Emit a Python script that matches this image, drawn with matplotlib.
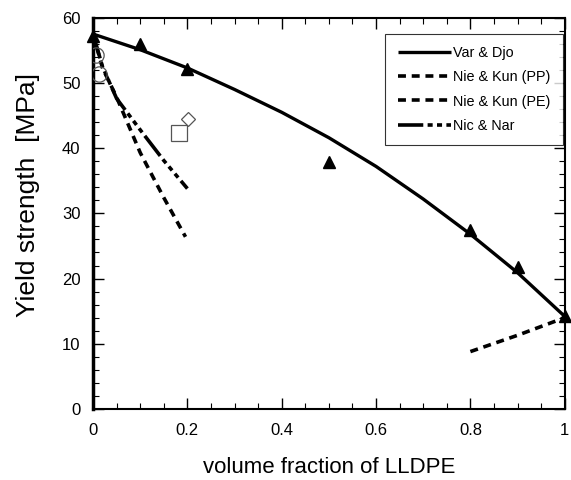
import matplotlib
matplotlib.use('Agg')
import matplotlib.pyplot as plt
from matplotlib.ticker import MultipleLocator

plt.rcParams['font.family'] = ['Liberation Sans', 'DejaVu Sans']

# measured points (filled triangles)
tri_x = [0.0, 0.1, 0.2, 0.5, 0.8, 0.9, 1.0]
tri_y = [57.2, 55.9, 52.1, 37.9, 27.5, 21.8, 14.2]

# other measured points
circ_x = [0.007, 0.012]
circ_y = [54.3, 51.3]
sq_x = [0.183]
sq_y = [42.3]
dia_x = [0.202]
dia_y = [44.5]

# model curves
vd_x = [0.0, 0.1, 0.2, 0.3, 0.4, 0.5, 0.6, 0.7, 0.8, 0.9, 1.0]
vd_y = [57.5, 55.1, 52.3, 49.0, 45.5, 41.6, 37.2, 32.2, 26.8, 20.9, 14.2]

nkpp_x = [0.0, 0.02, 0.05, 0.1, 0.15, 0.196]
nkpp_y = [57.5, 52.3, 47.8, 39.3, 32.4, 26.4]

nkpe_x = [0.8, 0.9, 1.0]
nkpe_y = [8.8, 11.3, 14.0]

nn_x = [0.0, 0.02, 0.05, 0.1, 0.15, 0.2]
nn_y = [57.5, 52.5, 47.6, 42.8, 38.1, 33.8]

x_ticks = [0, 0.2, 0.4, 0.6, 0.8, 1.0]
x_labels = ['0', '0.2', '0.4', '0.6', '0.8', '1']
y_ticks = [0, 10, 20, 30, 40, 50, 60]

fig = plt.figure(figsize=(5.71, 4.80), dpi=100)
ax = fig.add_axes([0.163, 0.148, 0.826, 0.815])

ax.plot(vd_x, vd_y, color='black', lw=2.4, solid_capstyle='butt', label='Var & Djo')
ax.plot(nkpp_x, nkpp_y, color='black', lw=2.6, dashes=(2.2, 1.6), label='Nie & Kun (PP)')
ax.plot(nkpe_x, nkpe_y, color='black', lw=2.6, dashes=(2.2, 1.6), label='Nie & Kun (PE)')
ax.plot(nn_x, nn_y, color='black', lw=2.6, dashes=(7, 1.2, 1.4, 1.2, 1.4, 1.2, 1.4, 1.2),
        label='Nic & Nar')

ax.plot(tri_x, tri_y, '^', color='black', ms=9, clip_on=False, zorder=5)
ax.plot(circ_x, circ_y, 'o', mfc='none', mec='#555555', mew=0.9, ms=11, zorder=4)
ax.plot(sq_x, sq_y, 's', mfc='none', mec='#555555', mew=0.9, ms=11, zorder=4)
ax.plot(dia_x, dia_y, 'D', mfc='none', mec='#555555', mew=0.9, ms=7.5, zorder=4)

ax.set_xlim(0, 1)
ax.set_ylim(0, 60)
ax.set_xticks(x_ticks)
ax.set_xticklabels(x_labels)
ax.set_yticks(y_ticks)
ax.xaxis.set_minor_locator(MultipleLocator(0.05))
ax.yaxis.set_minor_locator(MultipleLocator(2))
ax.tick_params(which='both', direction='in', top=True, right=True, labelsize=12)
ax.tick_params(axis='x', pad=10)
ax.tick_params(axis='y', pad=9)
ax.tick_params(which='major', length=8, width=1)
ax.tick_params(which='minor', length=4, width=0.8)
for s in ax.spines.values():
    s.set_linewidth(1.5)
ax.spines['left'].set_linewidth(2.5)

ax.set_xlabel('volume fraction of LLDPE', fontsize=16, labelpad=14)
ax.set_ylabel('Yield strength  [MPa]', fontsize=19)
ax.yaxis.set_label_coords(-0.113, 0.547)

leg = ax.legend(loc='upper right', bbox_to_anchor=(563 / 571, 1 - 34 / 480),
                bbox_transform=fig.transFigure, fontsize=10.4, frameon=True,
                fancybox=False, edgecolor='black', handlelength=3.7, handletextpad=0.15,
                labelspacing=0.7, borderpad=0.85, borderaxespad=0)
leg.get_frame().set_linewidth(0.8)

fig.savefig('out.png', dpi=100)
